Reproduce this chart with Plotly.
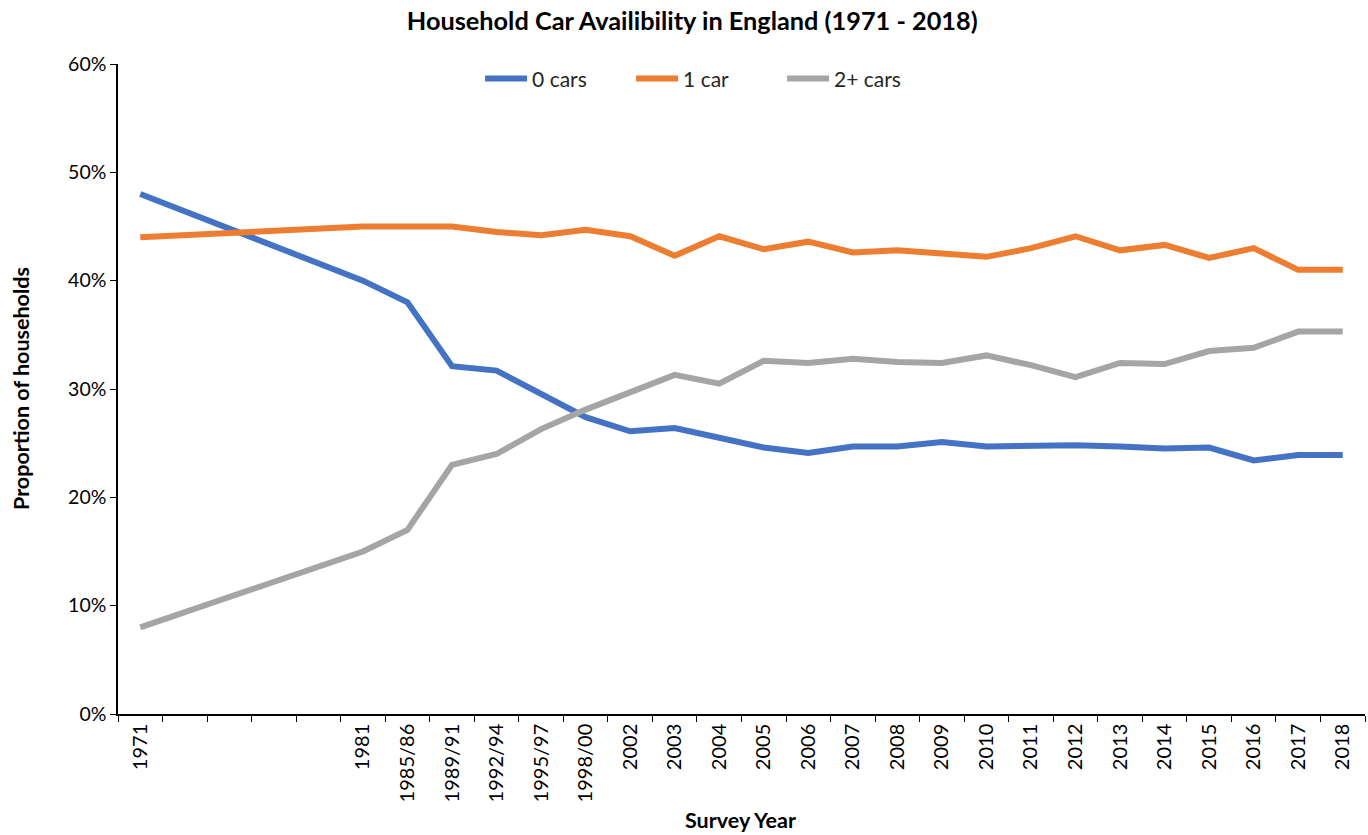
import plotly.graph_objects as go

categories = ["1971", " ", "  ", "   ", "    ", "1981", "1985/86", "1989/91", "1992/94",
              "1995/97", "1998/00", "2002", "2003", "2004", "2005", "2006", "2007",
              "2008", "2009", "2010", "2011", "2012", "2013", "2014", "2015", "2016",
              "2017", "2018"]

zero_cars = [0.480, None, None, None, None, 0.400, 0.380, 0.321, 0.317, 0.296, 0.274,
             0.261, 0.264, 0.255, 0.246, 0.241, 0.247, 0.247, 0.251, 0.247, 0.248,
             0.248, 0.247, 0.245, 0.246, 0.234, 0.239, 0.239]
one_car = [0.440, None, None, None, None, 0.450, 0.450, 0.450, 0.445, 0.442, 0.447,
           0.441, 0.423, 0.441, 0.429, 0.436, 0.426, 0.428, 0.425, 0.422, 0.430,
           0.441, 0.428, 0.433, 0.421, 0.430, 0.410, 0.410]
two_plus = [0.080, None, None, None, None, 0.150, 0.170, 0.230, 0.240, 0.263, 0.281,
            0.297, 0.313, 0.305, 0.326, 0.324, 0.328, 0.325, 0.324, 0.331, 0.322,
            0.311, 0.324, 0.323, 0.335, 0.338, 0.353, 0.353]

series = [("0 cars", zero_cars, "#4472C4"),
          ("1 car", one_car, "#ED7D31"),
          ("2+ cars", two_plus, "#A5A5A5")]

FONT = "Lato, 'Open Sans', sans-serif"

fig = go.Figure()
for name, vals, col in series:
    fig.add_trace(go.Scatter(x=categories, y=vals, name=name, mode="lines",
                             connectgaps=True,
                             line=dict(color=col, width=6)))

fig.update_layout(
    width=1368, height=835,
    paper_bgcolor="white", plot_bgcolor="white",
    margin=dict(l=118, r=3, t=64, b=121),
    font=dict(family=FONT, size=18, color="#262626"),
    title=dict(text="<b>Household Car Availibility in England (1971 - 2018)</b>",
               x=0.506, xanchor="center", y=0.975, yanchor="middle",
               font=dict(size=25.3, color="#000000")),
    legend=dict(orientation="h", x=0.472, xanchor="center", y=0.977, yanchor="middle",
                font=dict(size=21, color="#262626"), bgcolor="rgba(0,0,0,0)",
                entrywidth=94, itemwidth=42),
    showlegend=True,
    annotations=[
        dict(text="<b>Survey Year</b>", xref="paper", yref="paper", x=0.4995, y=-0.163,
             xanchor="center", yanchor="middle", showarrow=False,
             font=dict(size=21.5, color="#000")),
        dict(text="<b>Proportion of households</b>", xref="paper", yref="paper",
             x=-0.0778, y=0.5015, xanchor="center", yanchor="middle", textangle=-90,
             showarrow=False, font=dict(size=21.5, color="#000")),
    ],
)

fig.update_xaxes(type="category", categoryorder="array", categoryarray=categories,
                 tickson="boundaries", ticks="outside", ticklen=6, tickcolor="#000",
                 showline=True, linecolor="#000", linewidth=1.5, showgrid=False,
                 tickangle=-90, tickfont=dict(size=20, color="#000"),
                 range=[-0.5, len(categories) - 0.5], automargin=False)

fig.update_yaxes(range=[0, 0.6], dtick=0.1, tickformat=".0%", ticks="outside",
                 ticklen=6, tickcolor="#000", showline=True, linecolor="#000",
                 linewidth=1.5, showgrid=False, zeroline=False,
                 tickfont=dict(size=19.5, color="#000"), automargin=False)

fig.write_html("out.html", config={"displayModeBar": False},
               post_script="document.body.style.margin='0px';")
